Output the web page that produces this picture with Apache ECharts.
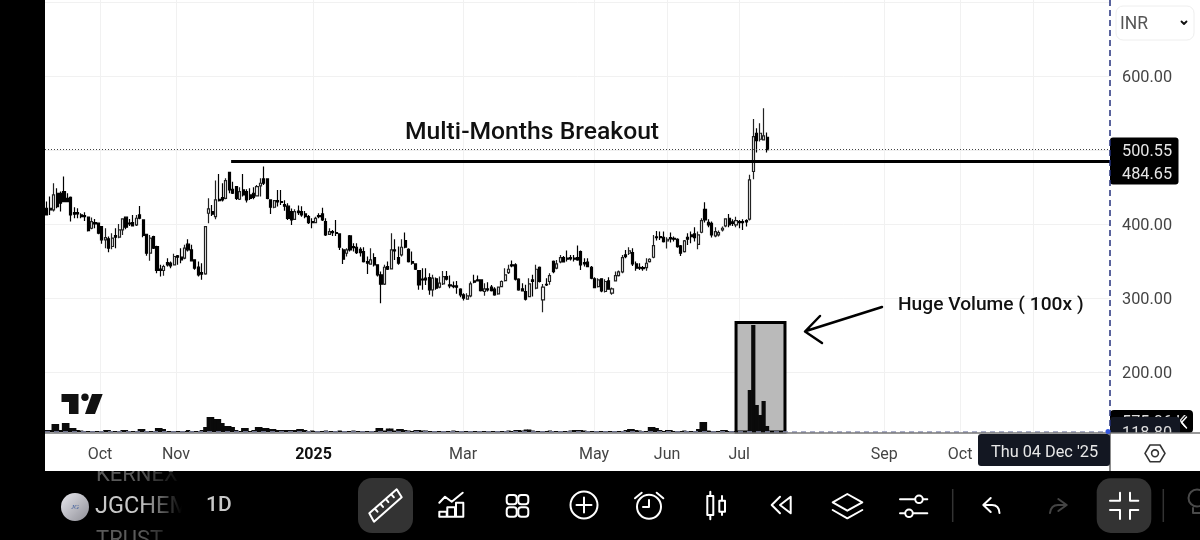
<!DOCTYPE html>
<html><head><meta charset="utf-8">
<style>html,body{margin:0;padding:0;background:#000}#c{width:1200px;height:540px}</style>
<script src="https://cdn.jsdelivr.net/npm/echarts@6/dist/echarts.min.js"></script>
</head><body><div id="c"></div>
<script>
const opens=[421.2,421.2,419,441.5,441.5,443.7,434.7,436,415.4,415.4,
412.2,411.3,409.1,394.2,401.9,401,396.5,378.5,379.9,369.5,
384.4,382.1,392,409.1,401,401.9,398.8,412.2,405.5,386.1,
360.5,383,369.5,338.9,337.1,347.9,347,344.8,356.9,355.1,
353.8,372.7,365,351.5,341.6,334.4,332.6,414.5,416.7,410,
433.4,435.6,434.7,469.8,446.9,450.5,433.4,446,443.7,439.2,
441.5,437.9,451.4,460.8,460.8,432.5,422.6,431.6,430.2,426,
424,416.6,406.3,417.5,416.6,413.5,409.9,403.1,401.8,411.2,
413.5,403.1,386,389.6,388.3,386.5,364.9,360.4,383.8,369.4,
368.5,365.8,362.7,349.2,345.6,354.6,344.7,331.2,318.6,342.4,
339.3,364.9,354.6,358.2,377.5,365.8,349.2,346,337,325.3,
326.7,327.6,310.9,325.8,314.5,319,328.9,317.6,316.3,316.3,
311.8,304.2,298.3,302.8,323,324.4,324.4,308.7,312.2,314.5,
311.8,305.5,315.4,323.5,334.3,344.7,344.7,325.3,312.3,308.7,
301.9,324.4,313.2,341.5,297.4,318.5,322.2,349.6,340.2,348.7,
354.5,353.7,354.5,353.7,354.5,362.7,347.8,348.3,341.5,325.8,
315.4,325.8,308.7,323.1,306.4,323.1,330.2,335.2,358.2,360.4,
361.3,346,341.5,341,341,349.2,355,382.5,382.9,382,
377,381.6,380.7,379.3,370.3,362.7,382,385.2,386.5,372.5,
388.8,419.8,402.3,400.9,383.8,385.2,391.9,397.3,407.7,402.7,
398.7,403.2,403.2,404.5,406.5,470.9,522.6,514.5,513.6,517.2];
const closes=[412.2,419,439.2,423.5,428,430.2,430.2,412.2,413.1,413.6,
410,410,391.1,403.2,400.1,387.5,378.5,381.6,367.2,380.8,
382.1,392,406.8,395.6,400.1,397.4,407.7,407.7,384.4,360.5,
380.8,367.2,337.1,337.1,342.5,344.8,343.4,356,355.1,351.5,
367.2,365,350.1,340.2,331.2,332.2,396.5,420.3,413.1,432.5,
431.6,432.5,458.6,446,441.5,434.7,443.7,439.2,432.5,434.7,
436,450.5,455,455,434.7,422.6,431.6,429.8,429.3,424,
407.6,405.4,416.6,415.3,412.1,409.9,401.8,401.8,407.6,409.9,
405.4,385.2,389.6,388.3,387.4,368.5,352.3,364.9,364.9,368.1,
361.3,361.3,349.2,346.9,351.4,344.7,331.2,318.6,341.5,338.8,
364.9,363.5,346.9,368.5,368.5,349.2,346.9,338.8,317.6,324.4,
324.4,310.9,326.7,313.2,319.9,328.9,325.3,316.3,315.4,314.5,
304.2,299.6,302.8,319,321.2,323,310,312.2,310.9,310,
304.2,314.5,322.2,331.2,338.8,343.3,325.3,310.9,309.6,298.3,
319,322.2,338.8,322.2,314.5,317.7,330.2,335.6,346,354.5,
348.7,352.3,352.8,352.3,351.4,344.7,346,342.4,326.7,314,
324.4,309.6,322.2,311.8,312.3,330.2,335.2,354.5,355.9,363.6,
346,340.2,340.2,339.7,346.9,352.3,370.8,381.6,381.6,376.2,
379.3,379.8,379.3,369.4,360.4,377,379.3,382.9,381.6,385.2,
404.5,405.4,398.7,385.2,389.7,388.3,394.2,406.8,398.7,400.9,
404.5,401.8,401.8,402.7,459.6,518.1,512.7,522.6,519,500.55];
const lows=[411.3,412.2,416.7,421.2,416.7,430,429.3,403.2,407.7,407.7,
407.7,404.1,389.7,392.9,394.2,386.1,373.1,367.2,361.9,365.9,
367.2,380.8,385.2,392.9,397.4,396.5,397.4,406.4,382.1,356.9,
350.1,366.3,333.5,329,329.9,342.5,340.2,343.9,344.8,347,
352.4,362.8,349.2,338,329,324.5,331.2,401,410.9,406.4,
430.2,430.2,433.4,441.5,440.6,432.5,432.5,437,428.9,432.5,
433.4,437,437,452.7,433.4,413.6,421.2,423.5,425.7,418,
405.4,398.6,405.4,412.1,409.9,407.6,400,394.2,400.9,407.6,
404,383.8,385.2,383.8,383.8,364.9,346,355.9,362.7,362.7,
359.5,355.9,347.8,332.5,344.7,342.4,328.9,292.9,317.6,337.9,
338.8,351.4,344.7,355.9,367.2,347.8,344.7,337.9,310.9,310.9,
317.6,304.2,301.9,310.9,313.2,317.6,323.5,313.2,313.2,305.5,
301,296.5,297.4,301,319.9,322.2,308.7,302.8,308.7,308.7,
302.8,304.2,314.5,322.2,332.5,341.5,323.5,309.6,308.7,296.5,
301,301.9,311.8,320.8,280.8,316.3,317.7,333.4,338.8,346.9,
347.8,349.2,350.5,349.2,350.1,337.9,342.4,341.5,325.3,313.2,
314,307.8,307.3,310.9,304.2,322.2,328.9,333.4,353.7,358.2,
343.3,336.6,337.9,336.6,336.6,347.8,353.7,377.5,378.4,374.8,
366.7,374.8,376.2,368,356.8,361.3,371.7,373.9,376.2,365.8,
387.4,401.8,395.5,381.6,382,382.9,389.7,395.5,395.5,397.3,
395.5,394.2,391.9,396.4,404.7,460.5,496.5,511.4,512.7,496.5];
const highs=[430.2,437,455,448.2,443.7,464,441.5,437,422.6,421.2,
414.5,415.8,410,408.6,406.8,401.9,397.4,394.2,383,387.5,
394.2,400.1,407.7,410,406.8,412.2,412.2,424.4,406.4,386.6,
385.2,383.9,370.4,344.8,344.8,353.8,349.2,359.6,358.2,367.2,
371.8,379.4,371.8,352.4,349.2,347,397.4,434.7,425.7,458.6,
467.6,455,461.7,470.7,457.2,451.4,449.6,467.6,446.9,448.2,
449.6,452.7,461.7,477.5,461.7,433.4,432.5,446,446,432,
428,421,420,425,424,417.5,412.1,407.6,409.9,414.4,
422,407.6,394.2,391.9,405.4,387.4,367.2,367.2,385.2,373.9,
373.9,368.5,368.5,355.9,367.2,360.4,345.6,335.6,344.7,349.2,
387.4,379.3,369.4,379.3,388.3,367.2,362.7,346.9,337.9,340.2,
340.2,333.4,331.2,327.6,328.9,336.5,336.5,330.2,322.2,323,
313.2,306.4,306.4,322.2,331.2,330.2,325.3,319.9,321.2,317.6,
314.5,315.4,323.5,340.2,344.7,350.5,346.9,326.7,319.9,317.7,
326.7,331.2,344.7,342.4,319,326.7,333.4,350.5,351.4,358.2,
356.8,364,358.2,358.2,370.8,364,353.7,353.7,343.3,328,
326.7,326.7,325.3,328,314,335.6,337,358.2,364.9,368.5,
367.2,349.2,346.9,343.3,353.7,353.7,385.2,390.6,389.7,389.7,
382,388.3,382.9,380.7,371.7,378.4,387.4,389.7,395.5,389.7,
407.7,429.2,406.3,403.2,395.5,391,396.4,407.7,413.5,406.3,
409.9,405.4,406.3,406.3,466.4,541.9,529.4,536.1,556.4,523.5];
const volumes=[2,2,8,8,2,9,9,4,4,2,
1.5,1,1,1,1,1,1,2,2,1,
1,1,2,2,1,1,1,3,3,1,
1,1,4,4,3,1,1,1,1,1,
1,2,1,1,1,2,5,15,15,13,
13,9,6,6,5,2,1,4,4,1,
2,5,5,4,4,3,3,2,2,2,
2,2,2,3,3,2,1,1.5,1,1,
1,1.5,1,1,1,1.5,1,1,1,1.5,
1,1,1,1,1,1,4,4,1.5,3.5,
3.5,1.5,3,3,2,1.5,1,2,2,1.5,
1.5,1,1,1,1,1,1,1,1.5,1,
1,1,1,1,1,1,1,1,1,1,
1,1,1,1,1.5,1,2,2,1.5,2.5,
2.5,1.5,1,1,1,1,1.5,1,1,1,
1,1,1.5,2,2,2,1.5,1,1,1,
1,1,1,1,1,1,1,1,2,3,
3,2,1.5,1,1,5,5,4,2,1,
2,2,1,1,1,1.5,1,1,1,3,
10,10,1.5,1,1,1,2,2,1,1,
1,1,1,1,42,107,27,17,31,6];
const monthTickPositions=[15.46,37.5,77.4,120.8,158.8,180,200.9,243,265,286.2];
const monthTickLabels=['Oct','Nov','2025','Mar','May','Jun','Jul','Sep','Oct','Nov'];
const priceLabelValues=[200,300,400,500,600];
const priceGridValues=[200,300,400,500,600,700];
const priceMin=118.8, priceMax=702.7;
const lastPrice=500.55, breakoutLevel=484.65;
const breakoutStart=53.5, sessionEnd=308.5;

const candleRows=opens.map((o,i)=>[i,o,closes[i],lows[i],highs[i]]);
const volumeRows=volumes.map((v,i)=>[i,v]);
const W='#ffffff';
let shapeCount=0;
function path(d,o){o=o||{};const name='uiPath'+(shapeCount++);
 echarts.graphic.registerShape(name,echarts.graphic.extendPath(d,{}));
 return {type:name,silent:true,z:o.z||30,style:{fill:o.fill||'none',stroke:o.stroke===undefined?W:o.stroke,lineWidth:o.lw||2,lineCap:'round',lineJoin:'round'}};}
function rect(x,y,w,h,fill,r,z,stroke,lw){return {type:'rect',silent:true,z:z||20,shape:{x,y,width:w,height:h,r:r||0},style:{fill,stroke:stroke||null,lineWidth:lw||0}};}
function circ(cx,cy,r,o){o=o||{};return {type:'circle',silent:true,z:o.z||30,shape:{cx,cy,r},style:{fill:o.fill||'none',stroke:o.stroke===undefined?W:o.stroke,lineWidth:o.lw||2}};}
function txt(t,x,y,font,fill,z,align){return {type:'text',silent:true,z:z||30,x,y:y+2,style:{text:t,font,fill,textAlign:align||'left',textVerticalAlign:'middle'}};}
const F='Roboto';
const graphics=[
 rect(0,0,45,472,'#000',0,20),
 rect(0,471,1200,69,'#000',0,20),
 txt('KERNEX',96,473,`22px ${F}`,'#5a5a5a',21),
 txt('TRUST',96,538.5,`22px ${F}`,'#5a5a5a',21),
 rect(45,463,1065,8,'#fff',0,22),
 rect(1110,433,90,38,'#fff',0,22),
 {type:'line',silent:true,z:24,shape:{x1:45,y1:433,x2:1200,y2:433},style:{stroke:'#777',lineWidth:1.5}},
 {type:'line',silent:true,z:24,shape:{x1:1110,y1:433,x2:1110,y2:471},style:{stroke:'#666',lineWidth:1.5}},
 {type:'line',silent:true,z:19,shape:{x1:45,y1:432,x2:1110,y2:432},style:{stroke:'#8d93b5',lineWidth:1.5,lineDash:[5,4]}},
 {type:'line',silent:true,z:19,shape:{x1:1110,y1:0,x2:1110,y2:432},style:{stroke:'#23307e',lineWidth:1.5,lineDash:[6,4]}},
 circ(1108,431.5,2.5,{fill:'#3355dd',stroke:null,z:25}),
 path('M61.5 394H78.5V414H69V402H61.5Z',{fill:'#111',stroke:null,z:15}),
 circ(85,397.3,3.7,{fill:'#111',stroke:null,z:15}),
 path('M92 394H102.7L95 414H85Z',{fill:'#111',stroke:null,z:15}),
 txt('Multi-Months Breakout',405,131,`500 24.7px ${F}`,'#111',15),
 txt('Huge Volume ( 100x )',898,303,`500 19.2px ${F}`,'#111',15),
 path('M882 307L806 331M820 316L805 331.5L822 343',{stroke:'#000',lw:2.5,z:15}),
 rect(1110,410,83,23,'#000',4,16),
 txt('575.06 K',1122,421,`16.3px ${F}`,'#ddd',17),
 path('M1186.5 417L1181.5 422.5L1186.5 428',{lw:1.5,z:17}),
 rect(1110,417,70,20,'#131722',3,18),
 txt('118.80',1122,432,`16.3px ${F}`,'#ddd',19),
 rect(1110,137.5,68.5,47,'#000',3,16),
 txt('500.55',1122,150,`16.3px ${F}`,'#e6e6e6',17),
 txt('484.65',1122,173.3,`16.3px ${F}`,'#e6e6e6',17),
 rect(1116,6,78,34,'#fff',7,16,'#eee',1),
 txt('INR',1120,23,`17.5px ${F}`,'#555',17),
 path('M1181.5 21.5L1184 24L1186.5 21.5',{stroke:'#111',lw:1.8,z:17}),
 rect(978,434,132,32,'#131722',3,26),
 txt("Thu 04 Dec '25",1044.5,451,`16.3px ${F}`,'#e8e8e8',27,'center'),
 path('M1145 453.3L1150 445H1160L1165 453.3L1160 461.7H1150Z',{stroke:'#333',lw:1.6,z:27}),
 circ(1155,453.3,3.4,{stroke:'#333',lw:1.6,z:27}),
 circ(75,507,14,{fill:new echarts.graphic.LinearGradient(0,0,1,1,[{offset:0,color:'#e8e8ee'},{offset:1,color:'#8e8e96'}]),stroke:null}),
 txt('JG',75,505,`italic 7px "Liberation Serif"`,'#3a5a9a',31,'center'),
 txt('JGCHEM',95,505,`23.5px ${F}`,'#c8c8c8',25),
 {type:'rect',silent:true,z:26,shape:{x:140,y:472,width:42,height:68},style:{fill:new echarts.graphic.LinearGradient(0,0,1,0,[{offset:0,color:'rgba(0,0,0,0)'},{offset:1,color:'#000'}])}},
 rect(182,472,22,68,'#000',0,26),
 txt('1D',206,504,`500 21px ${F}`,'#c8c8c8',27),
 rect(358,478,55,55,'#333',14,25),
 rect(1096.7,478.3,54.6,54.6,'#333',14,25),
 path('M374 521.7L369.3 513.3L396.7 489.3L401.7 497.3Z M374.8 508.5L377.5 511.7 M380.3 503.7L383 506.9 M385.7 498.9L388.4 502.1 M391.2 494.1L393.9 497.3'),
 path('M439.3 502.7L445 496.7L451.7 501.7L462.7 492.7 M439.3 511.7H446.7V516.7H439.3Z M447.3 507.3H455V516.7H447.3Z M456 502.7H463.3V516.7H456Z'),
 rect(506.7,495,10,9.3,'none',3,30,W,2),rect(518.3,495,10,9.3,'none',3,30,W,2),
 rect(506.7,507.3,10,9.4,'none',3,30,W,2),rect(518.3,507.3,10,9.4,'none',3,30,W,2),
 circ(584,505,13.5),path('M584 497.5V512.5M576.5 505H591.5'),
 circ(649,506.7,12),path('M649 500V507H643M635 498.3L641.7 492.7M656.7 492.7L663.3 498.3'),
 path('M707.3 496H713.3V515H707.3Z M710.3 491.7V496 M710.3 515V519.3 M719.3 500.7H725V511.7H719.3Z M722 496V500.7 M722 511.7V515'),
 path('M780 496.7L771.7 505L780 513.3 M790.7 496.7L780 505L790.7 513.3Z'),
 path('M847.3 494L862.3 502.3L847.3 510.7L832.7 502.3Z M832.7 510L847.3 518.3L862.3 510'),
 path('M900 499.3H915 M923.3 499.3H927.3 M900 513.3H904.3 M913.3 513.3H927.3'),
 circ(919,499.3,3.8),circ(909,513.3,3.8),
 {type:'line',silent:true,z:30,shape:{x1:952.7,y1:489,x2:952.7,y2:522},style:{stroke:'#333',lineWidth:1.5}},
 path('M990.7 498L983.3 505L990.7 512 M983.3 505H992Q999 505 999.5 513'),
 path('M1058.3 499L1066.7 505L1058.3 511 M1066.7 505H1058Q1051 505 1050 513',{stroke:'#444'}),
 path('M1110 500.7H1120V492.7 M1130 492.7V500.7H1138.3 M1110 510H1120V519 M1138.3 510H1130V519',{z:31}),
 {type:'line',silent:true,z:30,shape:{x1:1163.3,y1:489,x2:1163.3,y2:522},style:{stroke:'#333',lineWidth:1.5}},
 circ(1197,498,8.5,{stroke:'#4a4a4a'}),path('M1193 508V513H1200',{stroke:'#4a4a4a'})
];
const chart=echarts.init(document.getElementById('c'),null,{renderer:'canvas',width:1200,height:540});
chart.setOption({
 animation:false,
 backgroundColor:'#ffffff',
 grid:{left:45,right:90,top:0,bottom:108,containLabel:false},
 xAxis:{type:'value',min:-0.5,max:sessionEnd,
  axisLine:{show:false},
  axisTick:{show:false,customValues:monthTickPositions},
  splitLine:{show:true,lineStyle:{color:'#f1f1f1',width:1}},
  axisLabel:{customValues:monthTickPositions,margin:15,fontFamily:F,fontSize:16,color:'#444',hideOverlap:false,
   formatter:function(v){const i=monthTickPositions.indexOf(v);const t=monthTickLabels[i];return t==='2025'?'{b|'+t+'}':t;},
   rich:{b:{fontFamily:F,fontSize:16,fontWeight:700,color:'#111'}}}},
 yAxis:[
  {type:'value',position:'right',min:priceMin,max:priceMax,
   axisLine:{show:false},
   axisTick:{show:false,customValues:priceGridValues},
   splitLine:{show:true,lineStyle:{color:'#f1f1f1',width:1}},
   axisLabel:{customValues:priceLabelValues,margin:12,fontFamily:F,fontSize:16.3,color:'#444',verticalAlign:'top',lineHeight:4,formatter:v=>v.toFixed(2)}},
  {type:'value',min:0,max:432,show:false,splitLine:{show:false}}
 ],
 series:[
  {type:'bar',name:'Volume',xAxisIndex:0,yAxisIndex:1,data:volumeRows,barWidth:4.2,z:3,
   itemStyle:{color:'#0a0a0a'},silent:true,
   markArea:{silent:true,z:1,itemStyle:{color:'#bababa',borderColor:'#000',borderWidth:3},
    data:[[{coord:[200,0]},{coord:[214.2,109.5]}]]}},
  {type:'candlestick',name:'Price',xAxisIndex:0,yAxisIndex:0,data:candleRows,encode:{x:0,y:[1,2,3,4]},barWidth:2.6,z:4,silent:true,
   itemStyle:{color:'#ffffff',color0:'#000000',borderColor:'#222222',borderColor0:'#000000',borderWidth:1.2},
   markLine:{silent:true,symbol:'none',label:{show:false},z:5,
    data:[
     [{coord:[breakoutStart,breakoutLevel],lineStyle:{color:'#000',width:3,type:'solid'}},{coord:[sessionEnd,breakoutLevel]}],
     [{coord:[-0.5,lastPrice],lineStyle:{color:'#444',width:1,type:[1,2]}},{coord:[sessionEnd,lastPrice]}]
    ]}}
 ],
 graphic:{elements:graphics}
});
</script></body></html>
